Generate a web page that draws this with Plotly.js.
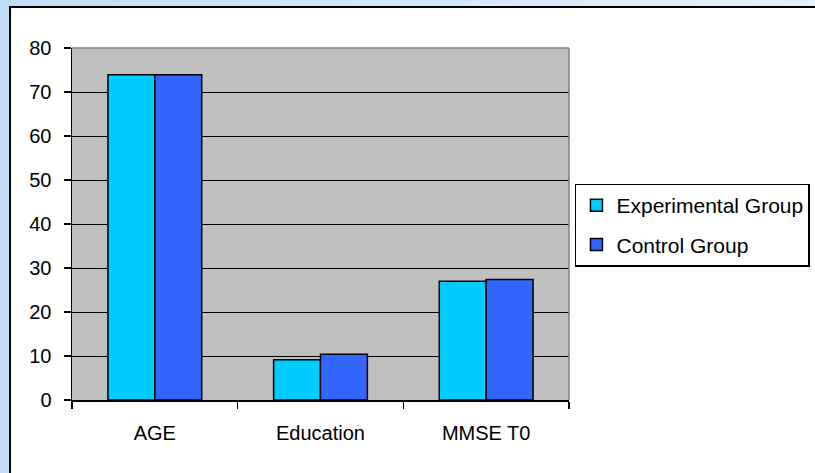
<!DOCTYPE html>
<html>
<head>
<meta charset="utf-8">
<script src="https://cdn.plot.ly/plotly-3.0.1.min.js"></script>
<style>
html,body{margin:0;padding:0;width:815px;height:473px;overflow:hidden;
background:linear-gradient(to right,#c0ddf7,#e6f1fc);}
#frame{position:absolute;left:9px;top:6px;width:804px;height:465px;background:#fff;
border-left:2px solid #000;border-top:2px solid #000;}
#chart{width:804px;height:465px;}
</style>
</head>
<body>
<div id="frame"><div id="chart"></div></div>
<script>
const categories = ["AGE", "Education", "MMSE T0"];
const experimentalGroup = [73.9, 9.15, 27.0];
const controlGroup = [73.9, 10.4, 27.4];
const seriesNames = ["Experimental Group", "Control Group"];
const yTicks = [0, 10, 20, 30, 40, 50, 60, 70, 80];

const font = {family: '"Liberation Sans", Arial, sans-serif', size: 20, color: '#000'};
const legendFont = {family: '"Liberation Sans", Arial, sans-serif', size: 21, color: '#000'};

const traces = [
  {type: 'bar', name: seriesNames[0], x: categories, y: experimentalGroup,
   legendgroup: 'a',
   marker: {color: '#00ccff', line: {color: '#000', width: 1.5}}},
  {type: 'bar', name: seriesNames[1], x: categories, y: controlGroup,
   legendgroup: 'b',
   marker: {color: '#3366ff', line: {color: '#000', width: 1.5}}}
];

const layout = {
  width: 804, height: 465,
  margin: {l: 61, r: 246, t: 40, b: 73, autoexpand: false},
  paper_bgcolor: '#fff',
  plot_bgcolor: '#c0c0c0',
  font: font,
  barmode: 'group',
  bargap: 0.434,
  bargroupgap: 0,
  showlegend: true,
  legend: {x: 1.012, xanchor: 'left', y: 0.615, yanchor: 'top',
           bgcolor: '#fff', bordercolor: '#000', borderwidth: 1.5,
           font: legendFont, traceorder: 'grouped', tracegroupgap: 9},
  xaxis: {type: 'category', showline: true, linecolor: '#000', linewidth: 1.5,
          ticks: 'outside', tickson: 'boundaries', ticklen: 7, tickcolor: '#000', tickwidth: 1.5,
          ticklabelstandoff: 14, showgrid: false, zeroline: false, fixedrange: true},
  yaxis: {range: [0, 80], tickvals: yTicks, showline: true, linecolor: '#000', linewidth: 1.5,
          ticks: 'outside', ticklen: 7, tickcolor: '#000', tickwidth: 1.5,
          ticklabelstandoff: 8,
          showgrid: true, gridcolor: '#000', gridwidth: 1, zeroline: false, fixedrange: true},
  shapes: [
    {type: 'line', xref: 'paper', yref: 'paper', x0: 0, x1: 1, y0: 1, y1: 1,
     line: {color: '#808080', width: 1.5}},
    {type: 'line', xref: 'paper', yref: 'paper', x0: 1, x1: 1, y0: 0, y1: 1,
     line: {color: '#808080', width: 1.5}}
  ]
};

Plotly.newPlot('chart', traces, layout, {displayModeBar: false, staticPlot: true});
</script>
</body>
</html>
